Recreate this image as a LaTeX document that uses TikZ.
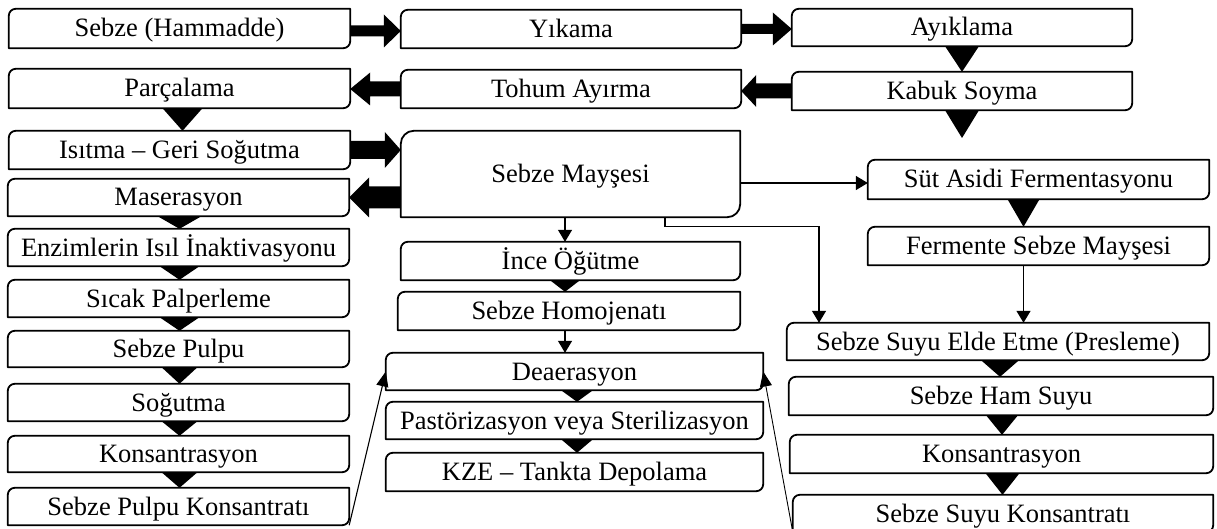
\documentclass[tikz,border=0pt]{standalone}
\usepackage{fontspec}
\setmainfont{Liberation Serif}
\usetikzlibrary{calc,arrows.meta}
\newcommand\bfs{\fontsize{26.5}{30}\selectfont}
\tikzset{
  txt/.style={inner sep=0pt, font=\bfs, text height=17.5pt, text depth=0.5pt},
  bline/.style={line width=1.8pt, line join=round},
  tarrow/.style={line width=1.3pt, -{Triangle[length=12pt,width=14pt]}},
  sarrow/.style={line width=1.1pt, -{Triangle[length=15pt,width=12pt]}},
}
% name, x1, y1, x2, y2, radius, text
\newcommand\bx[7]{%
  \node[txt, minimum width={(#4-#2)*1pt}, minimum height={(#5-#3)*1pt}] (#1) at ({(#2+#4)/2},{(#3+#5)/2}) {#7};
  \draw[bline] (#1.south west) [rounded corners=#6pt] -- (#1.north west) [sharp corners] -- (#1.north east) [rounded corners=#6pt] -- (#1.south east) [sharp corners] -- (#1.south west) -- cycle;
}
% upper node, lower node, x shift, half width
\newcommand\dtri[4]{\fill ($(#1.south)+({#3-#4},0)$) -- ($(#1.south)+({#3+#4},0)$) -- ($(#1.south |- #2.north)+(#3,0)$) -- cycle;}
% start, end, shaft half, head half, head length (signed)
\newcommand\harrow[5]{%
  \coordinate (hs) at (#1); \coordinate (he) at (#2);
  \fill ($(hs)+(0,{0-(#3)})$) -- ($(he)+({0-(#5)},{0-(#3)})$) -- ($(he)+({0-(#5)},{0-(#4)})$) -- (he) -- ($(he)+({0-(#5)},#4)$) -- ($(he)+({0-(#5)},#3)$) -- ($(hs)+(0,#3)$) -- cycle;}
\begin{document}
\begin{tikzpicture}[x=1pt,y=-1pt]
\path[use as bounding box, clip] (0,0) rectangle (1217,529);
\fill[white] (0,0) rectangle (1217,529);
% left column
\bx{SH}{9}{9}{350}{48}{7}{Sebze (Hammadde)}
\bx{Parc}{9}{69}{350}{108}{7}{Parçalama}
\bx{Isi}{9}{131}{350}{169}{7}{Isıtma – Geri Soğutma}
\bx{Mas}{8}{179}{349}{216}{7}{Maserasyon}
\bx{Enz}{8}{229}{349}{266}{7}{Enzimlerin Isıl İnaktivasyonu}
\bx{Sic}{8}{280}{349}{317}{7}{Sıcak Palperleme}
\bx{SP}{8}{331}{349}{367}{7}{Sebze Pulpu}
\bx{Sog}{8}{384}{349}{421}{7}{Soğutma}
\bx{KonsL}{8}{436}{349}{472}{7}{Konsantrasyon}
\bx{SPK}{8}{488}{349}{525}{7}{Sebze Pulpu Konsantratı}
% middle column
\bx{Yik}{401}{10}{741}{48}{7}{Yıkama}
\bx{Toh}{401}{70}{741}{108}{7}{Tohum Ayırma}
\bx{SM}{401}{131}{740}{217}{13}{Sebze Mayşesi}
\bx{Ince}{401}{242}{740}{280}{7}{İnce Öğütme}
\bx{Homo}{398}{292}{740}{330}{7}{Sebze Homojenatı}
\bx{Dea}{386}{353}{763}{390}{7}{Deaerasyon}
\bx{Past}{386}{402}{763}{439}{7}{Pastörizasyon veya Sterilizasyon}
\bx{KZE}{386}{453}{763}{491}{7}{KZE – Tankta Depolama}
% right column
\bx{Ayk}{792}{9}{1132}{46}{7}{Ayıklama}
\bx{Kab}{792}{72}{1132}{110}{7}{Kabuk Soyma}
\bx{Sut}{868}{160}{1209}{199}{7}{Süt Asidi Fermentasyonu}
\bx{FSM}{868}{227}{1209}{265}{7}{Fermente Sebze Mayşesi}
\bx{SSEE}{787}{323}{1209}{360}{7}{Sebze Suyu Elde Etme (Presleme)}
\bx{Ham}{789}{377}{1213}{415}{7}{Sebze Ham Suyu}
\bx{KonsR}{790}{435}{1213}{473}{7}{Konsantrasyon}
\bx{SSK}{793}{495}{1213}{532}{7}{Sebze Suyu Konsantratı}
\coordinate (kfree) at (962,138);
% block arrows
\harrow{$(SH.east)+(0,2.5)$}{$(Yik.west |- SH.east)+(0,2.5)$}{5.5}{16.5}{17}
\harrow{Yik.east}{Ayk.west |- Yik.east}{5}{16.5}{19}
\harrow{Toh.west}{Parc.east |- Toh.west}{7.5}{16.5}{-20}
\harrow{Kab.west}{Toh.east |- Kab.west}{7.5}{16}{-15}
\harrow{Isi.east}{SM.west |- Isi.east}{9}{18}{16}
\harrow{SM.west |- Mas.east}{Mas.east}{11}{20}{-20}
% triangles
\dtri{Parc}{Isi}{3}{20}
\dtri{Mas}{Enz}{1}{22}
\dtri{Enz}{Sic}{1}{20}
\dtri{Sic}{SP}{1}{20}
\dtri{SP}{Sog}{1}{18}
\dtri{Sog}{KonsL}{1}{18}
\dtri{KonsL}{SPK}{1}{18}
\dtri{Ayk}{Kab}{0}{17}
\fill ($(Kab.south)+(-17,0)$) -- ($(Kab.south)+(17,0)$) -- (kfree) -- cycle;
\dtri{Sut}{FSM}{-15}{16}
\dtri{Ince}{Homo}{-5.5}{15}
\dtri{Dea}{Past}{2.5}{16}
\dtri{Past}{KZE}{2.5}{16}
\dtri{SSEE}{Ham}{2}{19}
\dtri{Ham}{KonsR}{1}{16}
\dtri{KonsR}{SSK}{1}{17}
% thin arrows
\draw[tarrow] ($(SM.south)+(-5.5,0)$) -- ($(SM.south |- Ince.north)+(-5.5,0)$);
\draw[tarrow] ($(Homo.south)+(-4,0)$) -- ($(Homo.south |- Dea.north)+(-4,0)$);
\draw[tarrow] ($(SM.east |- Sut.west)+(0,3.5)$) -- ($(Sut.west)+(0,3.5)$);
\draw[tarrow] ($(SM.south)+(94.5,0)$) |- ($(SSEE.north)+(-179,-96)$) -- ($(SSEE.north)+(-179,0)$);
\draw[tarrow] ($(FSM.south)+(-15,0)$) -- ($(FSM.south |- SSEE.north)+(-15,0)$);
\draw[sarrow] (SPK.south east) -- (Dea.west);
\draw[sarrow, line width=0.9pt] (SSK.south west) -- (Dea.east);
\end{tikzpicture}
\end{document}
